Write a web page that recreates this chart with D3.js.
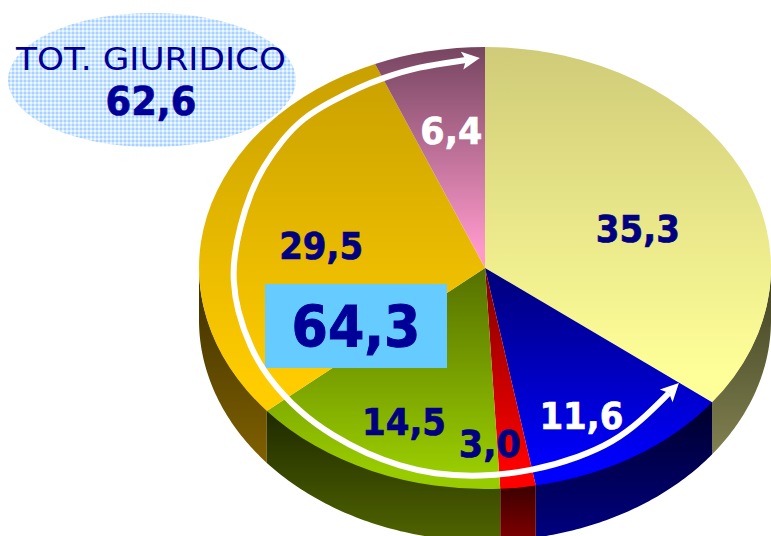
<!DOCTYPE html>
<html><head><meta charset="utf-8">
<script src="https://cdn.jsdelivr.net/npm/d3@7"></script>
<style>html,body{margin:0;padding:0;background:#fff;overflow:hidden}svg{display:block}text{font-family:"DejaVu Sans",Verdana,sans-serif}</style>
</head><body><svg id="c" width="771" height="536"></svg>
<script>
// Printed labels, clockwise from 12 o'clock
const labels = ["35,3","11,6","3,0","14,5","29,5","6,4"];
// Slice sweeps as measured in the picture (the drawn slices differ slightly from the printed values)
const sweeps = [35.5,11.8,2.0,14.7,30.0,6.3];
const topShade = ["#cfcb78","#000078","#800000","#557000","#c8a000","#764560"];
const topColor = ["#ffff99","#0000ff","#ff0000","#99cc00","#ffcc00","#ff99cc"];
const wallTop  = ["#3f3f20","#00002a","#3a0000","#1f2900","#3a2e00","#000000"];
const wallEnd  = ["#808050","#000080","#800000","#506400","#806000","#000000"];
const labelInk = ["#000080","#ffffff","#000080","#000080","#000080","#ffffff"];
const labelShift = [[-1,20],[7,35],[-15,44],[-13,32],[3,9],[0,-7]];
const totalTitle = "TOT. GIURIDICO", totalValue = "62,6", boxValue = "64,3";
// Hand-traced centre line of the white double-headed arrow (annotation)
const ringTrace = [[669,393],[640,422],[613,442],[580,457],[533,471],[480,477],[433,474],[400,466],[367,454],[333,436],[300,413],[267,377],[250,347],[237,310],[233,280],[234,257],[240,226],[250,194],[263,167],[282,140],[303,118],[330,102],[360,87],[383,78],[417,67],[466,60]];

const cx=485, cy=268, rx=286, ry=221, depth=52;
const svg=d3.select("#c"), defs=svg.append("defs");

function grad(id,a,b,stop){
  const g=defs.append("linearGradient").attr("id",id).attr("x1",0).attr("y1",0).attr("x2",0).attr("y2",1);
  g.append("stop").attr("offset",0).attr("stop-color",a);
  g.append("stop").attr("offset",stop).attr("stop-color",b);
}
const pat=defs.append("pattern").attr("id","dots").attr("patternUnits","userSpaceOnUse").attr("width",4).attr("height",4);
pat.append("rect").attr("width",4).attr("height",4).attr("fill","#cfe6ff");
pat.append("rect").attr("width",2).attr("height",2).attr("fill","#a6d2ff");
pat.append("rect").attr("x",2).attr("y",2).attr("width",2).attr("height",2).attr("fill","#eef6ff");

const mk=defs.append("marker").attr("id","head").attr("markerUnits","userSpaceOnUse").attr("viewBox","0 0 20 20")
  .attr("refX",4).attr("refY",10).attr("markerWidth",20).attr("markerHeight",20).attr("orient","auto-start-reverse");
mk.append("path").attr("d","M0,1L18,10L0,19L4,10Z").attr("fill","#fff");

svg.append("ellipse").attr("cx",152).attr("cy",80).attr("rx",144).attr("ry",67).attr("fill","url(#dots)");

const slices=d3.pie().sort(null).value(d=>d)(sweeps);
const X=a=>cx+rx*Math.sin(a), Y=a=>cy-ry*Math.cos(a);

// extruded walls
const wall=svg.append("g");
slices.forEach((s,i)=>{
  const a0=Math.max(s.startAngle,Math.PI/2), a1=Math.min(s.endAngle,3*Math.PI/2);
  if(a1<=a0) return;
  grad("w"+i,wallTop[i],wallEnd[i],1);
  const as=d3.range(0,61).map(k=>a0+(a1-a0)*k/60);
  const area=d3.area().x(a=>X(a)).y0(a=>Y(a)-1).y1(a=>Y(a)+depth);
  wall.append("path").attr("d",area(as)).attr("fill",`url(#w${i})`);
});

// top surface
const arc=d3.arc().innerRadius(0).outerRadius(rx);
const face=svg.append("g").attr("transform",`translate(${cx},${cy}) scale(1,${ry/rx})`);
slices.forEach((s,i)=>{
  grad("t"+i,topShade[i],topColor[i],0.92);
  face.append("path").attr("d",arc(s)).attr("fill",`url(#t${i})`);
});

// box behind the arrow's value
svg.append("rect").attr("x",265).attr("y",284).attr("width",182).attr("height",84).attr("fill","#66ccff");

// white arrow
svg.append("path").attr("d",d3.line().curve(d3.curveBasis)(ringTrace))
  .attr("fill","none").attr("stroke","#fff").attr("stroke-width",6)
  .attr("marker-start","url(#head)").attr("marker-end","url(#head)");

// slice labels
slices.forEach((s,i)=>{
  const m=(s.startAngle+s.endAngle)/2;
  svg.append("text").text(labels[i])
    .attr("x",cx+0.6*rx*Math.sin(m)+labelShift[i][0])
    .attr("y",cy-0.6*ry*Math.cos(m)+labelShift[i][1]+13)
    .attr("text-anchor","middle").attr("font-size",37).attr("font-weight","bold")
    .attr("textLength",labels[i].length===4?84:62).attr("lengthAdjust","spacingAndGlyphs")
    .attr("fill",labelInk[i]).attr("stroke",labelInk[i]).attr("stroke-width",0.7);
});

svg.append("text").text(boxValue).attr("x",356).attr("y",347).attr("text-anchor","middle")
  .attr("font-size",57).attr("font-weight","bold").attr("textLength",129).attr("lengthAdjust","spacingAndGlyphs")
  .attr("fill","#000099").attr("stroke","#000099").attr("stroke-width",1);
svg.append("text").text(totalTitle).attr("x",151).attr("y",70).attr("text-anchor","middle")
  .attr("font-size",32).attr("textLength",270).attr("lengthAdjust","spacingAndGlyphs").attr("fill","#000099");
svg.append("text").text(totalValue).attr("x",151).attr("y",115).attr("text-anchor","middle")
  .attr("font-size",39).attr("font-weight","bold").attr("textLength",91).attr("lengthAdjust","spacingAndGlyphs")
  .attr("fill","#000099").attr("stroke","#000099").attr("stroke-width",0.7);
</script></body></html>
